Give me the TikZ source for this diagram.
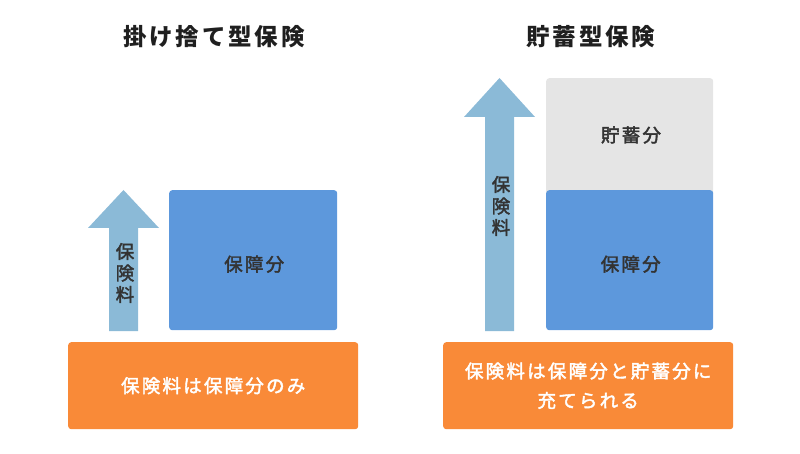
\documentclass[tikz,border=0pt]{standalone}
\usepackage{fontspec}
\setmainfont{Noto Sans CJK JP}[LetterSpace=12]
\newfontfamily\jpmed{Noto Sans CJK JP}[LetterSpace=12, FakeBold=2.2]
\usetikzlibrary{positioning}
\definecolor{boxblue}{HTML}{5D98DC}
\definecolor{arrowblue}{HTML}{8BBAD7}
\definecolor{boxorange}{HTML}{F98A38}
\definecolor{boxgray}{HTML}{E5E5E5}
\definecolor{txtdark}{HTML}{333333}
\tikzset{
  title/.style={font=\fontsize{23.5}{26}\selectfont\bfseries, text=black!88},
  part/.style={rectangle, inner sep=0pt, rounded corners=3pt,
    font=\fontsize{18.5}{20}\selectfont\jpmed, text=txtdark},
  bluebox/.style={part, fill=boxblue},
  graybox/.style={part, fill=boxgray},
  orangebox/.style={part, fill=boxorange, text=white, align=center,
    minimum width=290pt, minimum height=87pt,
    font=\fontsize{18.5}{29.5}\selectfont\jpmed},
  arrowbody/.style={fill=arrowblue},
  arrowlabel/.style={inner sep=0pt, align=center, text=txtdark,
    font=\fontsize{18.5}{21.5}\selectfont\jpmed}
}

\begin{document}
\begin{tikzpicture}[x=1pt, y=-1pt]
  \useasboundingbox (0,0) rectangle (800,454);
  % titles
  \node[title] (t1) at (214,37) {掛け捨て型保険};
  \node[title] (t2) at (591,37) {貯蓄型保険};
  % left: term insurance
  \coordinate (a1) at (123.5,190);
  \fill[arrowbody] (a1) -- ++(35.5,38) -- ++(-21,0) -- ++(0,103)
    -- ++(-29,0) -- ++(0,-103) -- ++(-21,0) -- cycle;
  \node[arrowlabel] (l1) at (125,273) {保\\険\\料};
  \node[bluebox, anchor=north west, minimum width=168pt, minimum height=140pt]
    (b1) at (169,190) {};
  \node[part] at ([xshift=1pt,yshift=-4pt]b1.center) {保障分};
  \node[orangebox, anchor=north west] (o1) at (68,342) {保険料は保障分のみ};
  % right: savings insurance
  \coordinate (a2) at (499.5,78);
  \fill[arrowbody] (a2) -- ++(35.5,39) -- ++(-21,0) -- ++(0,214)
    -- ++(-29,0) -- ++(0,-214) -- ++(-21,0) -- cycle;
  \node[arrowlabel] (l2) at (501,206) {保\\険\\料};
  \node[graybox, anchor=north west, minimum width=167pt, minimum height=118pt,
    text depth=0pt] (g2) at (546,78) {};
  \node[part] at (631,135) {貯蓄分};
  \node[bluebox, anchor=north west, minimum width=167pt, minimum height=140pt]
    (b2) at (546,190) {};
  \node[part] at ([xshift=1pt,yshift=-4pt]b2.center) {保障分};
  \node[orangebox, anchor=north west] (o2) at (443,342)
    {保険料は保障分と貯蓄分に\\充てられる};
\end{tikzpicture}
\end{document}
